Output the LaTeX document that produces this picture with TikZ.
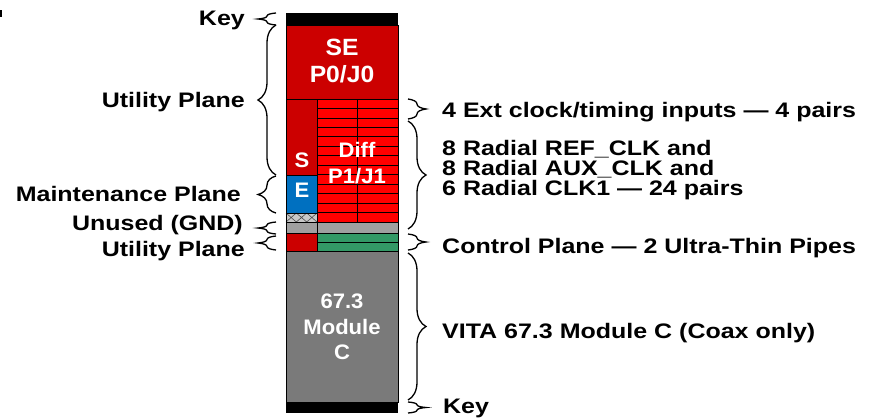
\documentclass[tikz,border=0pt]{standalone}
\usepackage{fontspec}
\setmainfont{Liberation Sans}
\newfontfamily\lblfont{Liberation Sans}[FakeStretch=1.19]
\newfontfamily\boxfont{Liberation Sans}[FakeStretch=1.05]
\usetikzlibrary{decorations.pathreplacing}
\definecolor{darkred}{HTML}{CC0000}
\definecolor{diffred}{HTML}{FF0000}
\definecolor{mblue}{HTML}{0070C0}
\definecolor{gndgray}{HTML}{A0A0A0}
\definecolor{hatchgray}{HTML}{C8C8C8}
\definecolor{cgreen}{HTML}{339966}
\definecolor{modgray}{HTML}{7A7A7A}
\begin{document}
\begin{tikzpicture}[x=1pt,y=-1pt,
  cell/.style={draw=black,line width=0.8pt},
  lbl/.style={inner sep=0pt,font=\lblfont\bfseries\fontsize{21}{20.2}\selectfont},
  intxt/.style={inner sep=0pt,text=white,font=\boxfont\bfseries\fontsize{21}{21}\selectfont},
  bigtxt/.style={inner sep=0pt,text=white,font=\boxfont\bfseries\fontsize{23.5}{23}\selectfont},
  lbrace/.style={decorate,decoration={brace,amplitude=18pt},line width=1.3pt},
  rbrace/.style={decorate,decoration={brace,amplitude=18pt},line width=1.3pt},
]
\useasboundingbox (0,0) rectangle (880,418);
% tiny clipped mark at top left
\fill[black] (0,10) rectangle (1.6,17);

% ---- connector column ----
\fill[black] (286,13) rectangle (398,25);
\draw[cell,fill=darkred] (286,25) rectangle (398,99);
% left column
\draw[cell,fill=darkred] (286,99) rectangle (317,175);
\draw[cell,fill=mblue] (286,175) rectangle (317,213);
\fill[hatchgray] (286,213) rectangle (317,222);
\draw[gray!60!black,line width=0.6pt] (286,213) -- (296.3,222) -- (306.7,213) -- (317,222)
  (286,222) -- (296.3,213) -- (306.7,222) -- (317,213);
\draw[cell] (286,213) rectangle (317,222);
% diff rows
\foreach \i in {0,...,12}
  \draw[cell,fill=diffred] (317,{99+\i*9.4615}) rectangle (398,{99+(\i+1)*9.4615});
\draw[black,line width=0.8pt] (357,99) -- (357,222);
% gnd row
\draw[cell,fill=gndgray] (286,222) rectangle (317,233);
\draw[cell,fill=gndgray] (317,222) rectangle (398,233);
% utility / control row
\draw[cell,fill=darkred] (286,233) rectangle (317,251);
\draw[cell,fill=cgreen] (317,233) rectangle (398,242);
\draw[cell,fill=cgreen] (317,242) rectangle (398,251);
% module
\draw[cell,fill=modgray] (286,251) rectangle (398,402);
\fill[black] (286,402) rectangle (398,413);

% ---- texts inside ----
\node[bigtxt,anchor=base] (se1) at (342,55) {SE};
\node[bigtxt,anchor=base] (se2) at (342,82) {P0/J0};
\node[intxt,anchor=base] (d1) at (357,157) {Diff};
\node[intxt,anchor=base] (d2) at (357,183) {P1/J1};
\node[intxt,anchor=base] (s) at (302,167) {S};
\node[intxt,anchor=base] (e) at (302,197) {E};
\node[intxt,anchor=base] (m1) at (342,308) {67.3};
\node[intxt,anchor=base] (m2) at (342,334) {Module};
\node[intxt,anchor=base] (m3) at (342,359) {C};

% ---- left braces ----
\draw[lbrace] (276,25) -- (276,13);
\draw[lbrace] (276,175) -- (276,25);
\draw[lbrace] (276,213) -- (276,176);
\draw[lbrace] (276,234) -- (276,222);
\draw[lbrace] (276,250) -- (276,236);

% ---- left labels ----
\node[lbl,anchor=base east] (kL) at (245,25) {Key};
\node[lbl,anchor=base east] (uL) at (245,107) {Utility Plane};
\node[lbl,anchor=base east] (mL) at (241,201) {Maintenance Plane};
\node[lbl,anchor=base east] (gL) at (243,230) {Unused (GND)};
\node[lbl,anchor=base east] (u2L) at (245,256) {Utility Plane};

% ---- right braces ----
\draw[rbrace] (408,99) -- (408,119);
\draw[rbrace] (408,121) -- (408,229);
\draw[rbrace] (408,234) -- (408,250);
\draw[rbrace] (408,253) -- (408,400);
\draw[rbrace] (408,402) -- (408,413);

% ---- right labels ----
\node[lbl,anchor=base west] (r1) at (442,117) {4 Ext clock/timing inputs — 4 pairs};
\node[lbl,anchor=base west,align=left] (r2) at (442,195.5)
  {8 Radial REF\_CLK and\\8 Radial AUX\_CLK and\\6 Radial CLK1 — 24 pairs};
\node[lbl,anchor=base west] (r5) at (442,253) {Control Plane — 2 Ultra-Thin Pipes};
\node[lbl,anchor=base west] (r6) at (442,338) {VITA 67.3 Module C (Coax only)};
\node[lbl,anchor=base west] (r7) at (443,413) {Key};
\end{tikzpicture}
\end{document}
